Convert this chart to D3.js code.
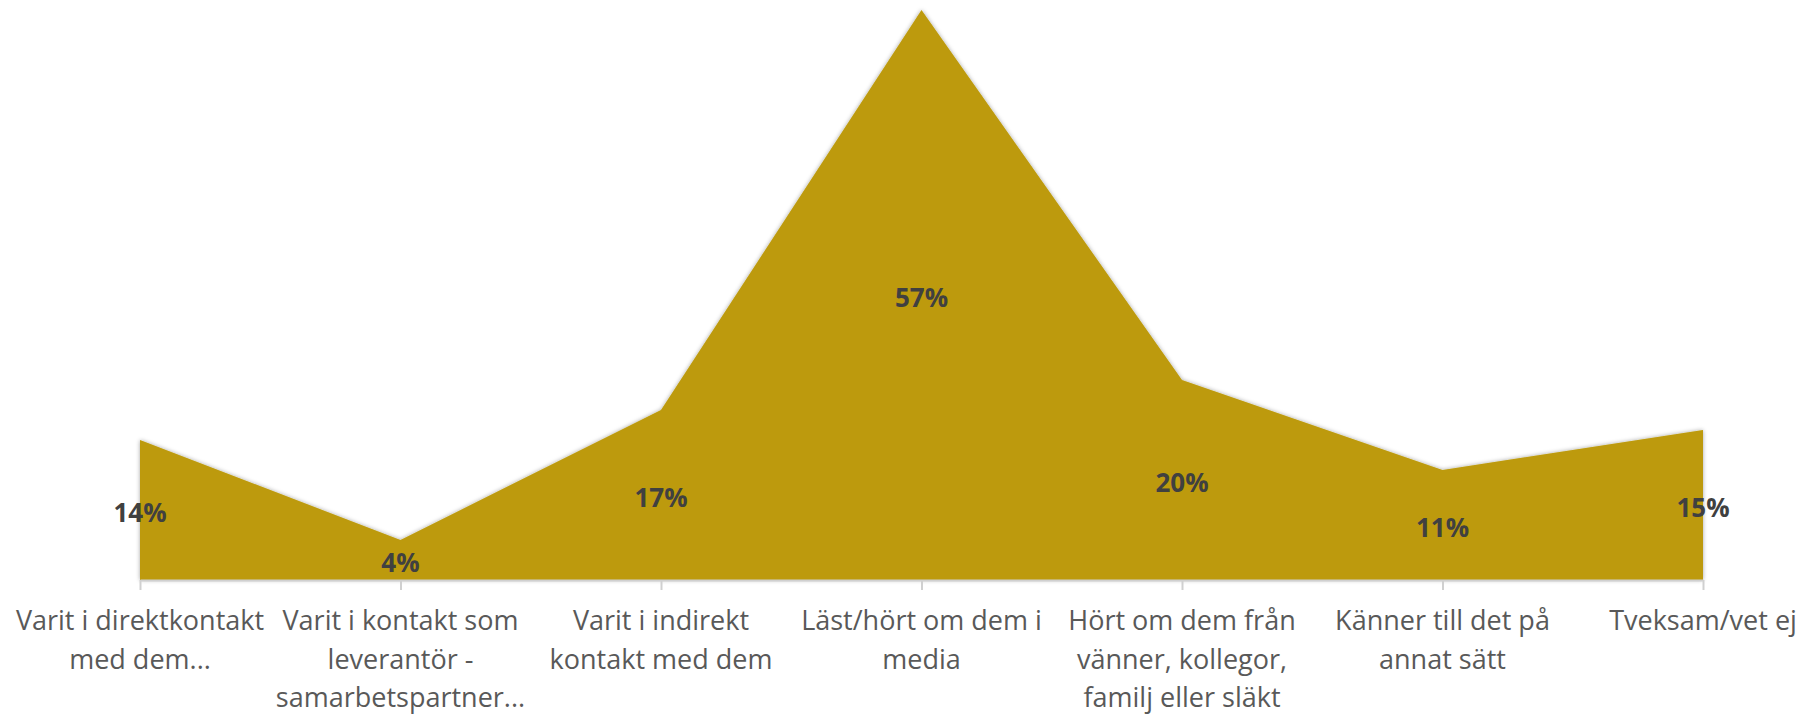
<!DOCTYPE html>
<html>
<head>
<meta charset="utf-8">
<script src="https://cdnjs.cloudflare.com/ajax/libs/d3/7.8.5/d3.min.js"></script>
<style>
  body { margin: 0; background: #fff; }
  svg { display: block; }
</style>
</head>
<body>
<script>
const categories = [
  ['Varit i direktkontakt', 'med dem...'],
  ['Varit i kontakt som', 'leverantör -', 'samarbetspartner...'],
  ['Varit i indirekt', 'kontakt med dem'],
  ['Läst/hört om dem i', 'media'],
  ['Hört om dem från', 'vänner, kollegor,', 'familj eller släkt'],
  ['Känner till det på', 'annat sätt'],
  ['Tveksam/vet ej']
]
const values = [14, 4, 17, 57, 20, 11, 15]

const width = 1820
const height = 714
const keys = categories.map((c) => c.join(' '))

const x = d3.scalePoint().domain(keys).range([140, 1703])
const y = d3.scaleLinear().domain([0, 57]).range([580, 10])

const svg = d3.select('body').append('svg').attr('width', width).attr('height', height)

// soft edge like the excel shadow
const filter = svg.append('defs').append('filter').attr('id', 'shadow')
  .attr('x', '-5%').attr('y', '-5%').attr('width', '110%').attr('height', '110%')
filter.append('feDropShadow')
  .attr('dx', 0).attr('dy', 0).attr('stdDeviation', 2)
  .attr('flood-color', '#000').attr('flood-opacity', 0.35)

const area = d3.area()
  .x((d, i) => x(keys[i]))
  .y0(y(0))
  .y1((d) => y(d))

svg.append('path')
  .datum(values)
  .attr('d', area)
  .attr('fill', '#bd9a09')
  .attr('filter', 'url(#shadow)')

// axis line + ticks
const axis = svg.append('g')
  .attr('transform', 'translate(0,' + y(0) + ')')
  .call(d3.axisBottom(x).tickSize(10).tickSizeOuter(0).tickFormat(''))
axis.select('.domain').attr('stroke', '#d0d0d0').attr('stroke-width', 2)
axis.selectAll('.tick line').attr('stroke', '#d0d0d0').attr('stroke-width', 2)

// category labels, several lines each
const labels = svg.selectAll('text.cat')
  .data(categories)
  .enter().append('text')
  .attr('class', 'cat')
  .attr('text-anchor', 'middle')
  .attr('font-family', 'Open Sans, sans-serif')
  .attr('font-size', 27)
  .attr('fill', '#595959')

labels.selectAll('tspan')
  .data((d, i) => d.map((line) => ({line: line, i: i})))
  .enter().append('tspan')
  .attr('x', (d) => x(keys[d.i]))
  .attr('y', (d, j) => 630 + j * 38.5)
  .text((d) => d.line)

// value labels halfway up each point
svg.selectAll('text.val')
  .data(values)
  .enter().append('text')
  .attr('class', 'val')
  .attr('x', (d, i) => x(keys[i]))
  .attr('y', (d) => y(d / 2) + 3)
  .attr('dy', '0.35em')
  .attr('text-anchor', 'middle')
  .attr('font-family', 'Open Sans, sans-serif')
  .attr('font-weight', 'bold')
  .attr('font-size', 26)
  .attr('fill', '#404040')
  .text((d) => d + '%')
</script>
</body>
</html>
